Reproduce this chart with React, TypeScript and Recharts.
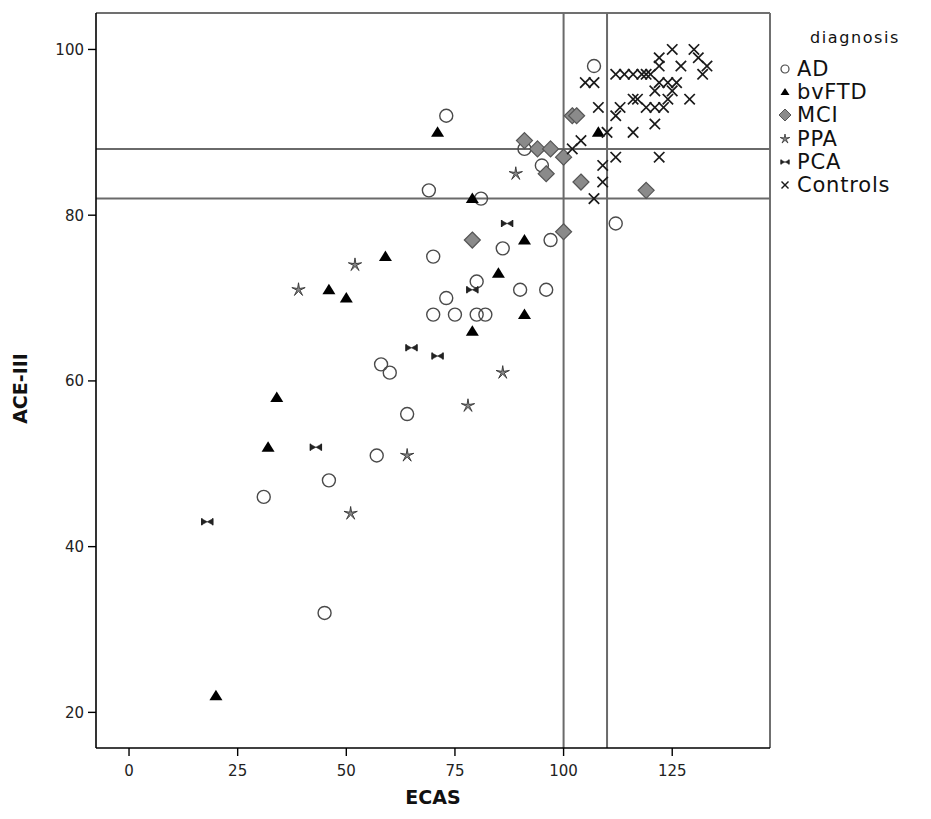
import React from 'react';
import { ScatterChart, Scatter, XAxis, YAxis, ReferenceLine, Legend } from 'recharts';

// ECAS (x) and ACE-III (y) scores per diagnosis group
const AD: [number, number][] = [
  [107, 98], [73, 92], [91, 88], [95, 86], [69, 83], [81, 82], [112, 79], [97, 77], [86, 76], [70, 75],
  [80, 72], [90, 71], [96, 71], [73, 70], [70, 68], [75, 68], [80, 68], [82, 68], [58, 62], [60, 61],
  [64, 56], [57, 51], [46, 48], [31, 46], [45, 32],
];
const BVFTD: [number, number][] = [
  [108, 90], [71, 90], [79, 82], [91, 77], [59, 75], [85, 73], [46, 71], [50, 70], [91, 68], [79, 66],
  [34, 58], [32, 52], [20, 22],
];
const MCI: [number, number][] = [
  [102, 92], [103, 92], [91, 89], [94, 88], [97, 88], [100, 87], [96, 85], [104, 84], [119, 83], [100, 78], [79, 77],
];
const PPA: [number, number][] = [
  [89, 85], [52, 74], [39, 71], [86, 61], [78, 57], [64, 51], [51, 44],
];
const PCA: [number, number][] = [
  [87, 79], [79, 71], [65, 64], [71, 63], [43, 52], [18, 43],
];
const CONTROLS: [number, number][] = [
  [105, 96], [107, 96], [112, 97], [114, 97], [116, 97], [118, 97], [119, 97], [120, 97], [125, 100], [122, 99],
  [122, 98], [127, 98], [130, 100], [131, 99], [133, 98], [132, 97], [121, 95], [122, 96], [124, 96], [126, 96],
  [125, 95], [116, 94], [117, 94], [119, 93], [121, 93], [123, 93], [124, 94], [129, 94], [113, 93], [112, 92],
  [121, 91], [116, 90], [110, 90], [108, 93], [104, 89], [102, 88], [112, 87], [122, 87], [109, 86], [109, 84],
  [107, 82],
];

const X_TICKS = [0, 25, 50, 75, 100, 125];
const Y_TICKS = [20, 40, 60, 80, 100];
const X_CUTS = [100, 110];
const Y_CUTS = [88, 82];
const X_DOMAIN: [number, number] = [-7.6, 147.5];
const Y_DOMAIN: [number, number] = [15.7, 104.4];

const GROUPS = ['AD', 'bvFTD', 'MCI', 'PPA', 'PCA', 'Controls'];

const toPts = (a: [number, number][]) => a.map(([x, y]) => ({ x, y }));

const FONT = '"DejaVu Sans", "Liberation Sans", sans-serif';
const TICK_FONT = '"DejaVu Sans", sans-serif';

const CircleMark = (p: any) => (
  <circle cx={p.cx} cy={p.cy} r={6.5} fill="none" stroke="#4a4a4a" strokeWidth={1.4} />
);
const TriMark = (p: any) => (
  <polygon points={`${p.cx},${p.cy - 6} ${p.cx + 6.5},${p.cy + 4.5} ${p.cx - 6.5},${p.cy + 4.5}`} fill="#000" />
);
const DiaMark = (p: any) => (
  <polygon
    points={`${p.cx},${p.cy - 8} ${p.cx + 8},${p.cy} ${p.cx},${p.cy + 8} ${p.cx - 8},${p.cy}`}
    fill="#8a8a8a"
    stroke="#555"
    strokeWidth={1.2}
  />
);
const starPts = (cx: number, cy: number, ro: number, ri: number) => {
  const pts: string[] = [];
  for (let i = 0; i < 10; i++) {
    const r = i % 2 === 0 ? ro : ri;
    const a = -Math.PI / 2 + (i * Math.PI) / 5;
    pts.push(`${cx + r * Math.cos(a)},${cy + r * Math.sin(a)}`);
  }
  return pts.join(' ');
};
const StarMark = (p: any) => (
  <polygon points={starPts(p.cx, p.cy, 7, 1.6)} fill="#888" stroke="#333" strokeWidth={0.9} />
);
const BowMark = (p: any) => {
  const { cx, cy } = p;
  return (
    <g stroke="#222" strokeWidth={1.4} fill="#222">
      <line x1={cx - 5.5} y1={cy - 3.5} x2={cx - 5.5} y2={cy + 3.5} />
      <line x1={cx + 5.5} y1={cy - 3.5} x2={cx + 5.5} y2={cy + 3.5} />
      <polygon points={`${cx - 5.5},${cy - 3} ${cx},${cy} ${cx - 5.5},${cy + 3}`} strokeWidth={0.6} />
      <polygon points={`${cx + 5.5},${cy - 3} ${cx},${cy} ${cx + 5.5},${cy + 3}`} strokeWidth={0.6} />
    </g>
  );
};
const CrossMark = (p: any) => {
  const { cx, cy } = p;
  const d = 4.6;
  return (
    <g stroke="#1a1a1a" strokeWidth={1.7} strokeLinecap="square">
      <line x1={cx - d} y1={cy - d} x2={cx + d} y2={cy + d} />
      <line x1={cx - d} y1={cy + d} x2={cx + d} y2={cy - d} />
    </g>
  );
};

const LegendIcon = ({ i }: { i: number }) => {
  const c = 7;
  const small = [
    <circle cx={c} cy={c} r={4} fill="none" stroke="#4a4a4a" strokeWidth={1.2} />,
    <polygon points={`${c},${c - 4} ${c + 4.5},${c + 3} ${c - 4.5},${c + 3}`} fill="#000" />,
    <polygon points={`${c},${c - 6} ${c + 6},${c} ${c},${c + 6} ${c - 6},${c}`} fill="#8a8a8a" stroke="#555" strokeWidth={1} />,
    <polygon points={starPts(c, c, 5, 1.3)} fill="#888" stroke="#333" strokeWidth={0.8} />,
    <g stroke="#222" strokeWidth={1.2} fill="#222">
      <line x1={c - 4} y1={c - 2.5} x2={c - 4} y2={c + 2.5} />
      <line x1={c + 4} y1={c - 2.5} x2={c + 4} y2={c + 2.5} />
      <polygon points={`${c - 4},${c - 2} ${c},${c} ${c - 4},${c + 2}`} strokeWidth={0.5} />
      <polygon points={`${c + 4},${c - 2} ${c},${c} ${c + 4},${c + 2}`} strokeWidth={0.5} />
    </g>,
    <g stroke="#1a1a1a" strokeWidth={1.4}>
      <line x1={c - 3.5} y1={c - 3.5} x2={c + 3.5} y2={c + 3.5} />
      <line x1={c - 3.5} y1={c + 3.5} x2={c + 3.5} y2={c - 3.5} />
    </g>,
  ];
  return (
    <svg width={14} height={14} style={{ display: 'block' }}>
      {small[i]}
    </svg>
  );
};

const LegendBox = () => (
  <div style={{ fontFamily: FONT, color: '#111' }}>
    <div style={{ fontSize: 16, marginLeft: 32, height: 24, lineHeight: '24px', letterSpacing: 1.6 }}>diagnosis</div>
    {GROUPS.map((g, i) => (
      <div key={g} style={{ display: 'flex', alignItems: 'center', height: 23.3, marginTop: i === 0 ? 7 : 0 }}>
        <LegendIcon i={i} />
        <span style={{ fontSize: 21, marginLeft: 5, letterSpacing: 0.8 }}>{g}</span>
      </div>
    ))}
  </div>
);

export default function App() {
  return (
    <ScatterChart width={923} height={811} margin={{ top: 5, right: 161, bottom: 0, left: 0 }}>
      <XAxis
        type="number"
        dataKey="x"
        domain={X_DOMAIN}
        ticks={X_TICKS}
        allowDataOverflow
        height={71}
        tickSize={8}
        tickMargin={9}
        stroke="#000"
        axisLine={{ stroke: '#000', strokeWidth: 1.6 }}
        tickLine={{ stroke: '#000', strokeWidth: 1.4 }}
        tick={{ fill: '#222', fontSize: 15, fontFamily: TICK_FONT }}
        label={{ value: 'ECAS', position: 'insideBottom', offset: 15, style: { fontFamily: FONT, fontWeight: 'bold', fontSize: 19, fill: '#111' } }}
      />
      <YAxis
        type="number"
        dataKey="y"
        domain={Y_DOMAIN}
        ticks={Y_TICKS}
        allowDataOverflow
        width={88}
        tickSize={8}
        tickMargin={4}
        axisLine={{ stroke: '#000', strokeWidth: 1.6 }}
        tickLine={{ stroke: '#000', strokeWidth: 1.4 }}
        tick={{ fill: '#222', fontSize: 15, fontFamily: TICK_FONT }}
        label={{ value: 'ACE-III', angle: -90, position: 'insideLeft', offset: 12, dy: 8, style: { fontFamily: FONT, fontWeight: 'bold', fontSize: 19, fill: '#111', textAnchor: 'middle' } }}
      />
      <ReferenceLine y={Y_DOMAIN[1]} stroke="#707070" strokeWidth={2} ifOverflow="visible" />
      <ReferenceLine x={X_DOMAIN[1]} stroke="#707070" strokeWidth={2} ifOverflow="visible" />
      {X_CUTS.map((v) => (
        <ReferenceLine key={'x' + v} x={v} stroke="#6a6a6a" strokeWidth={2} />
      ))}
      {Y_CUTS.map((v) => (
        <ReferenceLine key={'y' + v} y={v} stroke="#6a6a6a" strokeWidth={2} />
      ))}
      <Scatter name="AD" data={toPts(AD)} shape={CircleMark} isAnimationActive={false} />
      <Scatter name="bvFTD" data={toPts(BVFTD)} shape={TriMark} isAnimationActive={false} />
      <Scatter name="MCI" data={toPts(MCI)} shape={DiaMark} isAnimationActive={false} />
      <Scatter name="PPA" data={toPts(PPA)} shape={StarMark} isAnimationActive={false} />
      <Scatter name="PCA" data={toPts(PCA)} shape={BowMark} isAnimationActive={false} />
      <Scatter name="Controls" data={toPts(CONTROLS)} shape={CrossMark} isAnimationActive={false} />
      <Legend
        layout="vertical"
        align="center"
        verticalAlign="middle"
        content={<LegendBox />}
        wrapperStyle={{ position: 'absolute', left: 770, top: 18, width: 153, height: 190 }}
      />
    </ScatterChart>
  );
}
